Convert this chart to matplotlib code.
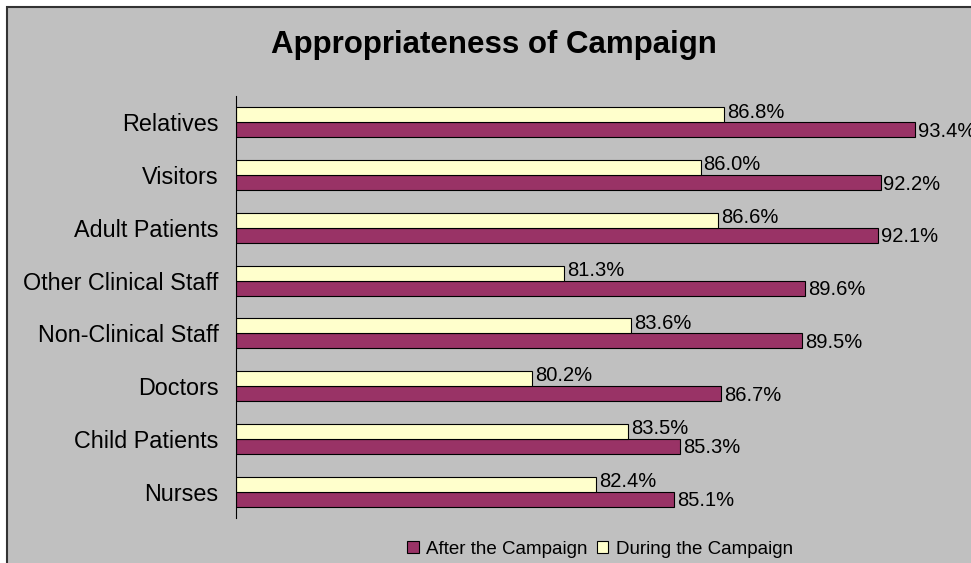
import numpy as np
import matplotlib
matplotlib.use('Agg')
import matplotlib.pyplot as plt
from matplotlib.patches import Rectangle

plt.rcParams['font.family'] = ['Liberation Sans', 'DejaVu Sans']

# groups listed bottom to top
groups = ['Nurses', 'Child Patients', 'Doctors', 'Non-Clinical Staff',
          'Other Clinical Staff', 'Adult Patients', 'Visitors', 'Relatives']
after = [85.1, 85.3, 86.7, 89.5, 89.6, 92.1, 92.2, 93.4]
during = [82.4, 83.5, 80.2, 83.6, 81.3, 86.6, 86.0, 86.8]

purple = '#993366'
cream = '#FFFFCC'
bg = '#C0C0C0'

fig = plt.figure(figsize=(9.71, 5.63), dpi=100)
fig.patch.set_facecolor('white')

# chart area panel with dark border
panel = Rectangle((7 / 971, -0.1), 1.2, 1.1 - 7 / 563, transform=fig.transFigure,
                  facecolor=bg, edgecolor='#333333', linewidth=1.5, zorder=-5)
fig.patches.append(panel)

ax = fig.add_axes([236 / 971, 1 - 518 / 563, (1107 - 236) / 971, (518 - 96) / 563])
ax.set_facecolor('none')

y = np.arange(len(groups))
h = 0.285
base = 70
ax.barh(y - h / 2, np.array(after) - base, left=base, height=h, color=purple,
        edgecolor='black', linewidth=0.8, label='After the Campaign')
ax.barh(y + h / 2, np.array(during) - base, left=base, height=h, color=cream,
        edgecolor='black', linewidth=0.8, label='During the Campaign')

for yi, v in zip(y, after):
    ax.text(v + 0.1, yi - h / 2 - 0.03, f'{v:.1f}%', va='center', ha='left',
            fontsize=14.5, clip_on=False)
for yi, v in zip(y, during):
    ax.text(v + 0.1, yi + h / 2 + 0.05, f'{v:.1f}%', va='center', ha='left',
            fontsize=14.5, clip_on=False)

ax.set_xlim(70, 100)
ax.set_ylim(-0.5, len(groups) - 0.5)
ax.set_yticks(y)
ax.set_yticklabels(groups, fontsize=16.8)
ax.tick_params(axis='y', length=0, pad=12.5)
ax.set_xticks([])
for s in ['top', 'right', 'bottom']:
    ax.spines[s].set_visible(False)
ax.spines['left'].set_linewidth(0.8)

fig.text(494 / 971, 1 - 45 / 563, 'Appropriateness of Campaign', ha='center',
         va='center', fontsize=22.5, fontweight='bold')

fig.legend(loc='center', bbox_to_anchor=(600 / 971, 1 - 549 / 563), ncol=2,
           frameon=False, fontsize=13.5, handlelength=0.6, handleheight=0.6,
           handletextpad=0.4, columnspacing=0.5)

fig.savefig('out.png', dpi=100, facecolor=fig.get_facecolor())
